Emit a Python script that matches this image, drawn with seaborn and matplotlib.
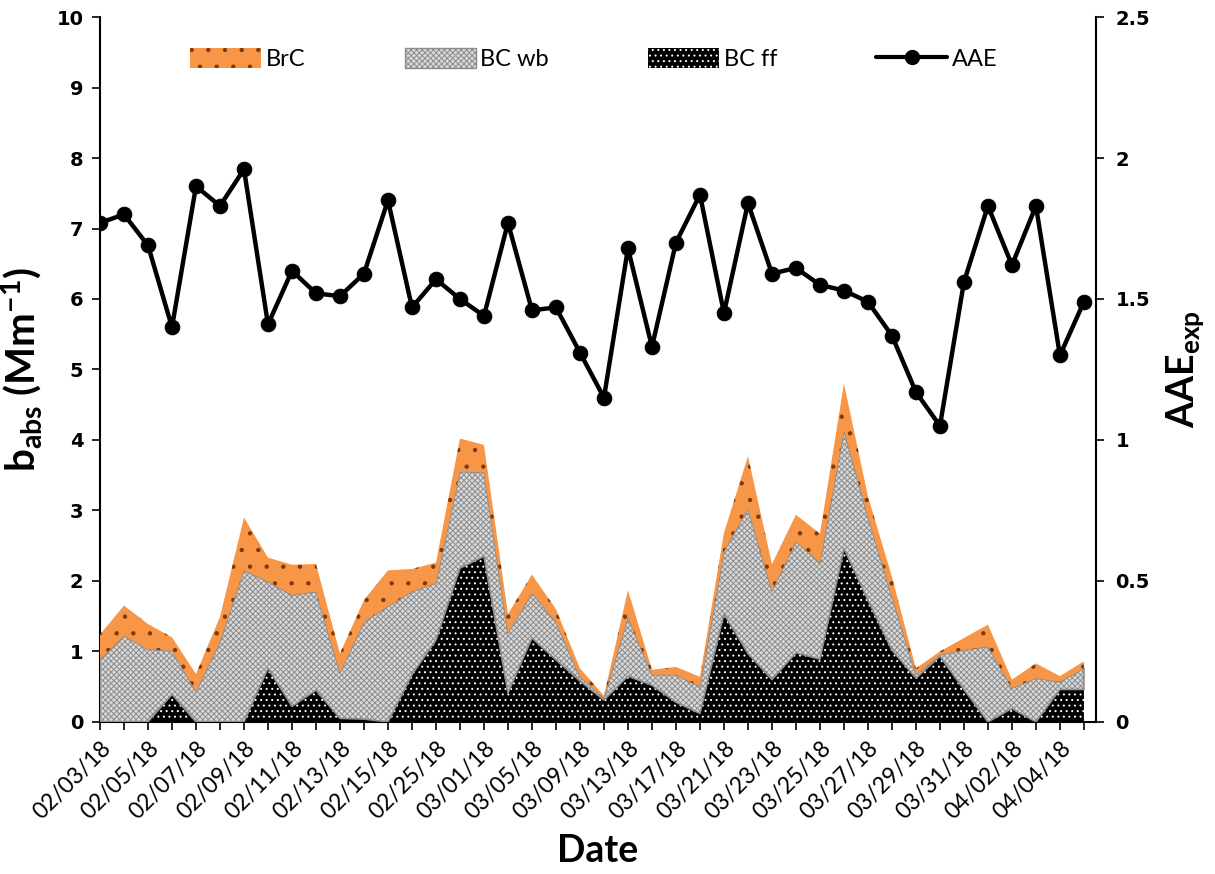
import numpy as np
import pandas as pd
import matplotlib
matplotlib.use("Agg")
import matplotlib.pyplot as plt
from matplotlib.patches import Patch
from matplotlib.lines import Line2D
import seaborn as sns

# Sampling dates (one per sample; every other one is labelled on the axis)
dates = ["02/03/18", "02/04/18", "02/05/18", "02/06/18", "02/07/18", "02/08/18",
         "02/09/18", "02/10/18", "02/11/18", "02/12/18", "02/13/18", "02/14/18",
         "02/15/18", "02/23/18", "02/25/18", "02/27/18", "03/01/18", "03/03/18",
         "03/05/18", "03/07/18", "03/09/18", "03/11/18", "03/13/18", "03/15/18",
         "03/17/18", "03/19/18", "03/21/18", "03/22/18", "03/23/18", "03/24/18",
         "03/25/18", "03/26/18", "03/27/18", "03/28/18", "03/29/18", "03/30/18",
         "03/31/18", "04/01/18", "04/02/18", "04/03/18", "04/04/18", "04/05/18"]

# Absorption contributions (Mm-1)
bc_ff = [0.00, 0.00, 0.00, 0.39, 0.00, 0.00, 0.00, 0.76, 0.22, 0.45, 0.05, 0.04,
         0.00, 0.67, 1.16, 2.18, 2.35, 0.41, 1.19, 0.88, 0.58, 0.31, 0.65, 0.52,
         0.28, 0.12, 1.53, 0.97, 0.60, 0.98, 0.89, 2.46, 1.73, 1.02, 0.62, 0.93,
         0.46, 0.00, 0.19, 0.00, 0.46, 0.46]
bc_wb = [0.89, 1.22, 1.03, 0.62, 0.43, 1.14, 2.15, 1.23, 1.58, 1.40, 0.65, 1.38,
         1.64, 1.18, 0.81, 1.37, 1.19, 0.85, 0.64, 0.54, 0.06, 0.03, 0.84, 0.15,
         0.39, 0.38, 0.89, 2.06, 1.26, 1.58, 1.37, 1.68, 1.18, 0.76, 0.05, 0.02,
         0.56, 1.07, 0.29, 0.62, 0.11, 0.30]
brc = [0.35, 0.43, 0.36, 0.19, 0.25, 0.35, 0.75, 0.34, 0.43, 0.39, 0.27, 0.31,
       0.51, 0.32, 0.29, 0.47, 0.39, 0.27, 0.26, 0.18, 0.12, 0.03, 0.38, 0.07,
       0.11, 0.14, 0.26, 0.74, 0.38, 0.38, 0.41, 0.66, 0.29, 0.28, 0.09, 0.05,
       0.17, 0.31, 0.12, 0.21, 0.08, 0.10]

# Absorption Angstrom exponent
aae = [1.77, 1.80, 1.69, 1.40, 1.90, 1.83, 1.96, 1.41, 1.60, 1.52, 1.51, 1.59,
       1.85, 1.47, 1.57, 1.50, 1.44, 1.77, 1.46, 1.47, 1.31, 1.15, 1.68, 1.33,
       1.70, 1.87, 1.45, 1.84, 1.59, 1.61, 1.55, 1.53, 1.49, 1.37, 1.17, 1.05,
       1.56, 1.83, 1.62, 1.83, 1.30, 1.49]

left_ticks = [0, 1, 2, 3, 4, 5, 6, 7, 8, 9, 10]
right_ticks = [0, 0.5, 1, 1.5, 2, 2.5]
right_labels = ["0", "0.5", "1", "1.5", "2", "2.5"]

sns.set_style("ticks")
plt.rcParams["font.family"] = ["Lato", "DejaVu Sans"]
plt.rcParams["text.color"] = "black"
plt.rcParams["axes.labelcolor"] = "black"
plt.rcParams["xtick.color"] = "black"
plt.rcParams["ytick.color"] = "black"
plt.rcParams["axes.edgecolor"] = "black"
plt.rcParams["mathtext.fontset"] = "custom"
plt.rcParams["mathtext.rm"] = "Lato:bold"
plt.rcParams["mathtext.it"] = "Lato:bold"
plt.rcParams["mathtext.bf"] = "Lato:bold"
plt.rcParams["hatch.linewidth"] = 0.7

df = pd.DataFrame({"date": dates, "pos": np.arange(len(dates)),
                   "ff": bc_ff, "wb": bc_wb, "brc": brc, "aae": aae})
df["wb_top"] = df["ff"] + df["wb"]
df["total"] = df["wb_top"] + df["brc"]

fig = plt.figure(figsize=(12.15, 8.74), dpi=100)
ax = fig.add_axes([0.0823, 0.174, 0.8197, 0.8065])

x = df["pos"].to_numpy()
c_orange = "#F79646"
c_gray = "#D9D9D9"

# Stacked areas: fossil-fuel BC at the bottom, wood-burning BC, then BrC on top
ax.fill_between(x, 0, df["ff"], facecolor="black", edgecolor="white",
                hatch="...", linewidth=0, zorder=2)
ax.fill_between(x, df["ff"], df["wb_top"], facecolor=c_gray, edgecolor="#8C8C8C",
                hatch="xxxxxx", linewidth=1.2, zorder=3)
ax.fill_between(x, df["wb_top"], df["total"], facecolor=c_orange, edgecolor="#7A3A10",
                hatch=".", linewidth=0, zorder=4)

ax.set_xlim(0, len(x) - 0.5)
ax.set_ylim(0, 10)
ax.set_yticks(left_ticks)
ax.set_yticklabels([str(t) for t in left_ticks], fontfamily="DejaVu Sans",
                   fontweight="bold", fontsize=14)
ax.set_xticks(x)
ax.set_xticklabels([d if i % 2 == 0 else "" for i, d in enumerate(dates)],
                   rotation=45, ha="right", rotation_mode="anchor", fontsize=16.5)
ax.tick_params(axis="x", length=6, width=1.2, pad=5)
ax.tick_params(axis="y", length=6, width=1.2, pad=6)
for s in ["left", "bottom"]:
    ax.spines[s].set_linewidth(1.5)
ax.spines["top"].set_visible(False)
ax.spines["right"].set_visible(False)
ax.set_xlabel("Date", fontsize=27, fontweight="bold", labelpad=8)
ax.set_ylabel(r"b$_{\mathrm{abs}}$ (Mm$^{\mathrm{-1}}$)", fontsize=29,
              fontweight="bold", labelpad=8)

ax2 = ax.twinx()
sns.lineplot(data=df, x="pos", y="aae", ax=ax2, color="black", linewidth=3.2,
             marker="o", markersize=10.5, markeredgecolor="black", zorder=5)
ax2.set_ylim(0, 2.5)
ax2.set_xlim(0, len(x) - 0.5)
ax2.set_yticks(right_ticks)
ax2.set_yticklabels(right_labels, fontfamily="DejaVu Sans", fontweight="bold",
                    fontsize=14)
ax2.tick_params(axis="y", length=6, width=1.2, pad=8)
ax2.spines["right"].set_linewidth(1.5)
ax2.spines["top"].set_visible(False)
ax2.spines["left"].set_visible(False)
ax2.spines["bottom"].set_visible(False)
ax2.set_xlabel("")
ax2.set_ylabel(r"AAE$_{\mathrm{exp}}$", fontsize=27, fontweight="bold", labelpad=10)

handles = [
    Patch(facecolor=c_orange, edgecolor="#7A3A10", hatch=".", linewidth=0, label="BrC"),
    Patch(facecolor=c_gray, edgecolor="#8C8C8C", hatch="xxxxxx", linewidth=1, label="BC wb"),
    Patch(facecolor="black", edgecolor="white", hatch="...", linewidth=0, label="BC ff"),
    Line2D([], [], color="black", linewidth=3, marker="o", markersize=10, label="AAE"),
]
ax2.legend(handles=handles, loc="center", bbox_to_anchor=(0.496, 0.94), ncol=4,
           frameon=False, fontsize=17, handlelength=3.0, handleheight=0.9,
           handletextpad=0.2, columnspacing=4.2)

fig.savefig("out.png", dpi=100)
